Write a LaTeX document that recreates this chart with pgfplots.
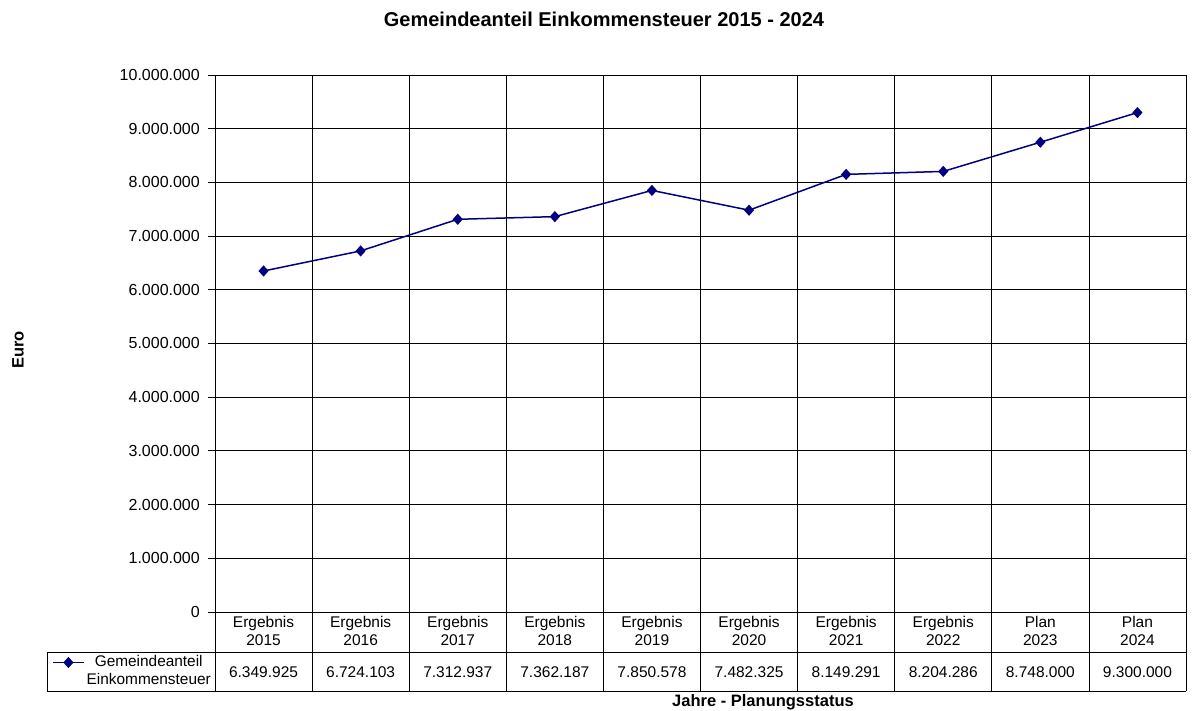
\documentclass[border=0pt]{standalone}
\usepackage{fontspec}
\setmainfont{Liberation Sans}
\usepackage{pgfplots}
\pgfplotsset{compat=1.18}
\definecolor{navyline}{RGB}{0,0,128}
\begin{document}
\begin{tikzpicture}
\fontsize{16}{19}\selectfont
\useasboundingbox (0pt,0pt) rectangle (1192pt,711pt);
\begin{axis}[
  at={(215pt,99pt)}, anchor=south west,
  scale only axis, width=971pt, height=537pt,
  xmin=-0.5, xmax=9.5, ymin=0, ymax=10000000,
  ytick={0,1000000,2000000,3000000,4000000,5000000,6000000,7000000,8000000,9000000,10000000},
  scaled y ticks=false,
  yticklabel style={/pgf/number format/fixed, /pgf/number format/1000 sep={.}, /pgf/number format/assume math mode=true},
  yticklabel style={font=\fontsize{16}{19}\selectfont, inner sep=0pt, xshift=-8pt},
  ytick pos=left,
  tick align=outside,
  major tick length=7pt,
  tick style={black, line width=0.8pt},
  xtick={0,1,2,3,4,5,6,7,8,9},
  x tick style={draw=none},
  xticklabels={
    {Ergebnis\\2015\\[13.5pt]6.349.925},
    {Ergebnis\\2016\\[13.5pt]6.724.103},
    {Ergebnis\\2017\\[13.5pt]7.312.937},
    {Ergebnis\\2018\\[13.5pt]7.362.187},
    {Ergebnis\\2019\\[13.5pt]7.850.578},
    {Ergebnis\\2020\\[13.5pt]7.482.325},
    {Ergebnis\\2021\\[13.5pt]8.149.291},
    {Ergebnis\\2022\\[13.5pt]8.204.286},
    {Plan\\2023\\[13.5pt]8.748.000},
    {Plan\\2024\\[13.5pt]9.300.000}},
  xticklabel style={align=center, anchor=north, inner sep=0pt, yshift=2.5pt, font=\fontsize{15.5}{18}\selectfont},
  minor xtick={-0.5,0.5,1.5,2.5,3.5,4.5,5.5,6.5,7.5,8.5,9.5},
  minor x tick style={draw=none},
  xminorgrids=true, ymajorgrids=true,
  grid style={black, line width=0.8pt},
  axis line style={black, line width=0.8pt},
  clip=false,
  legend style={draw=none, fill=none, at={(-0.1679,-0.1108)}, anchor=west,
    inner sep=0pt, cells={align=center}, font=\fontsize{15.4}{18}\selectfont},
  legend image code/.code={\draw[#1, mark repeat=2, mark phase=2] plot coordinates {(0pt,9pt) (15.5pt,9pt) (31pt,9pt)};},
]
\addplot[navyline, line width=1.5pt, mark=diamond*, mark size=4.5pt,
  mark options={xscale=1.2, fill=navyline, draw=navyline, solid}]
  coordinates {(0,6349925) (1,6724103) (2,7312937) (3,7362187) (4,7850578)
    (5,7482325) (6,8149291) (7,8204286) (8,8748000) (9,9300000)};
\addlegendentry{Gemeindeanteil\\Einkommensteuer}
\end{axis}
% table grid below the axis
\foreach \k in {0,...,10} \draw[black, line width=0.8pt] ({215pt+97.1pt*\k},99pt) -- ++(0pt,-79pt);
\draw[black, line width=0.8pt] (47pt,59pt) -- (1186pt,59pt);
\draw[black, line width=0.8pt] (47pt,20pt) -- (1186pt,20pt);
\draw[black, line width=0.8pt] (47pt,59pt) -- (47pt,20pt);
% titles
\node[font=\fontsize{20}{22}\selectfont\bfseries] at (604pt,692pt) {Gemeindeanteil Einkommensteuer 2015 - 2024};
\node[font=\fontsize{16.5}{19}\selectfont\bfseries, rotate=90] at (18pt,361pt) {Euro};
\node[font=\fontsize{16.5}{19}\selectfont\bfseries] at (763pt,9pt) {Jahre - Planungsstatus};
\end{tikzpicture}
\end{document}
